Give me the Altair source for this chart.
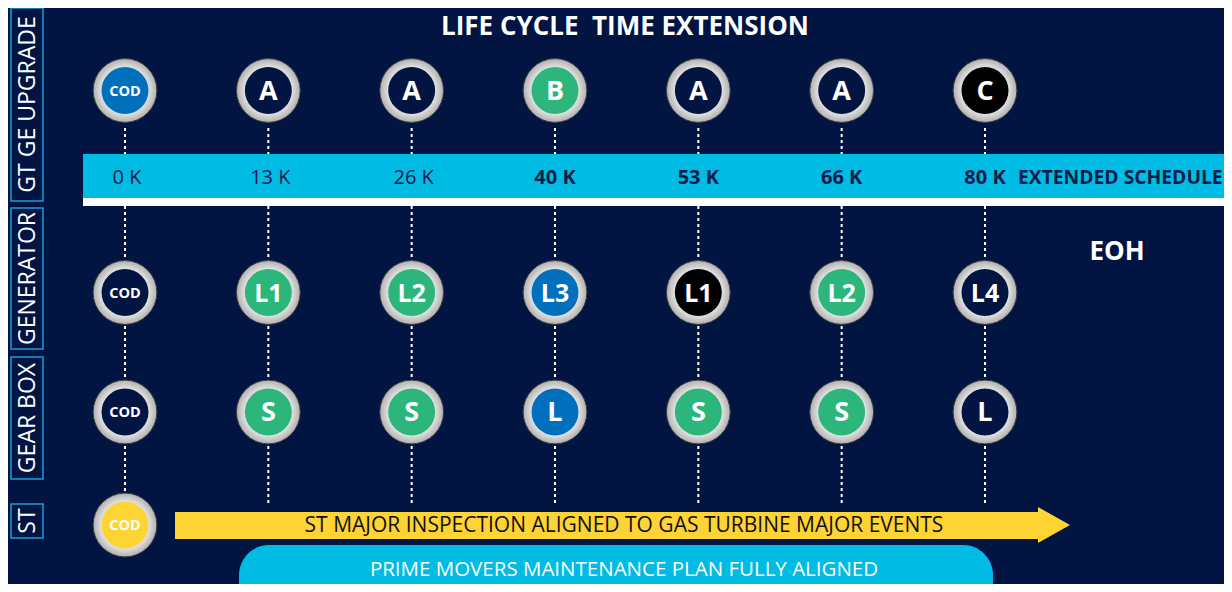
import altair as alt
import pandas as pd

# ---------------- data ----------------
milestones = [0, 13, 26, 40, 53, 66, 80]
tick_labels = ["0 K", "13 K", "26 K", "40 K", "53 K", "66 K", "80 K"]
tick_bold = [False, False, False, True, True, True, True]

rows = ["GT GE UPGRADE", "GENERATOR", "GEAR BOX", "ST"]

gt_labels = ["COD", "A", "A", "B", "A", "A", "C"]
gt_fill = ["blue", "navy", "navy", "green", "navy", "navy", "black"]

gen_labels = ["COD", "L1", "L2", "L3", "L1", "L2", "L4"]
gen_fill = ["navy", "green", "green", "blue", "black", "green", "navy"]

gear_labels = ["COD", "S", "S", "L", "S", "S", "L"]
gear_fill = ["navy", "green", "green", "blue", "green", "green", "navy"]

st_labels = ["COD"]
st_fill = ["yellow"]

title_text = "LIFE CYCLE\u00a0 TIME EXTENSION"
schedule_text = "EXTENDED SCHEDULE"
eoh_text = "EOH"
arrow_text = "ST MAJOR INSPECTION ALIGNED TO GAS TURBINE MAJOR EVENTS"
pill_text = "PRIME MOVERS MAINTENANCE PLAN FULLY ALIGNED"

# ---------------- style ----------------
BG = "#011442"
CYAN = "#00bbe4"
NAVY_TXT = "#0b1d4a"
YELLOW = "#fed434"
FONT = "Open Sans"
fill_domain = ["blue", "navy", "green", "black", "yellow"]
fill_range = ["#0070bc", BG, "#2cb67b", "#000000", YELLOW]

W, H = 1216, 576
OFF = 8  # page margin offset


def px(v):
    return v - OFF


X_SCALE = alt.Scale(domain=[-117 / 143.333, (W - 117) / 143.333], nice=False, zero=False)

ring = {
    "gradient": "radial",
    "x1": 0.5, "y1": 0.5, "r1": 0,
    "x2": 0.5, "y2": 0.5, "r2": 0.5,
    "stops": [
        {"offset": 0.0, "color": "#f2f2f2"},
        {"offset": 0.72, "color": "#e4e4e4"},
        {"offset": 1.0, "color": "#b0b0b0"},
    ],
}

ms_df = pd.DataFrame({
    "idx": list(range(len(milestones))),
    "k": milestones,
    "tick": tick_labels,
    "bold": tick_bold,
})
one = pd.DataFrame({"k": [0]})

xenc = alt.X("idx:Q", scale=X_SCALE, axis=None)

layers = []

# dotted vertical guides
layers.append(
    alt.Chart(ms_df).mark_rule(color="white", strokeWidth=2, strokeDash=[3, 3]).encode(
        x=xenc, y=alt.value(px(128)), y2=alt.value(px(503))
    )
)

# cyan schedule bar + white strip
layers.append(
    alt.Chart(one).mark_rect(color=CYAN).encode(
        x=alt.value(px(83)), x2=alt.value(W), y=alt.value(px(154)), y2=alt.value(px(198))
    )
)
layers.append(
    alt.Chart(one).mark_rect(color="white").encode(
        x=alt.value(px(83)), x2=alt.value(W), y=alt.value(px(198)), y2=alt.value(px(206))
    )
)

# tick labels on the bar
layers.append(
    alt.Chart(ms_df).transform_filter("!datum.bold").mark_text(
        font=FONT, fontSize=20, color=NAVY_TXT, baseline="middle", dy=1, dx=2
    ).encode(x=xenc, y=alt.value(px(177)), text="tick:N")
)
layers.append(
    alt.Chart(ms_df).transform_filter("datum.bold").mark_text(
        font=FONT, fontSize=20, fontWeight="bold", color=NAVY_TXT, baseline="middle", dy=1
    ).encode(x=xenc, y=alt.value(px(177)), text="tick:N")
)
layers.append(
    alt.Chart(one).mark_text(
        font=FONT, fontSize=19.3, fontWeight="bold", color=NAVY_TXT, align="left", baseline="middle", dy=1
    ).encode(x=alt.value(px(1018)), y=alt.value(px(177)), text=alt.value(schedule_text))
)


def circle_row(labels, fills, ypx):
    df = pd.DataFrame({"idx": list(range(len(labels))), "label": labels, "fill": fills})
    base = alt.Chart(df).encode(x=xenc, y=alt.value(px(ypx)))
    outer = base.mark_circle(size=4072, fill=ring, stroke="#3c3c3c", strokeWidth=1, opacity=1)
    inner = base.mark_circle(size=2206, opacity=1).encode(
        color=alt.Color("fill:N", scale=alt.Scale(domain=fill_domain, range=fill_range), legend=None)
    )
    txt = base.transform_calculate(
        fs="length(datum.label) == 1 ? 27 : (length(datum.label) == 2 ? 25 : 14.5)"
    ).mark_text(font=FONT, fontWeight="bold", color="white", baseline="middle", dy=1).encode(
        text="label:N", size=alt.Size("fs:Q", scale=None)
    )
    return [outer, inner, txt]


layers += circle_row(gt_labels, gt_fill, 90.5)
layers += circle_row(gen_labels, gen_fill, 292.5)
layers += circle_row(gear_labels, gear_fill, 412)

# yellow arrow
layers.append(
    alt.Chart(one).mark_rect(color=YELLOW).encode(
        x=alt.value(px(175)), x2=alt.value(px(1040)), y=alt.value(px(512)), y2=alt.value(px(539))
    )
)
layers.append(
    alt.Chart(one).mark_point(
        shape="M-1,-1.125L1,0L-1,1.125Z", size=1024, filled=True, color=YELLOW, opacity=1
    ).encode(x=alt.value(px(1054)), y=alt.value(px(525)))
)
layers.append(
    alt.Chart(one).mark_text(font=FONT, fontSize=21, color="#111111", baseline="middle", dy=1).encode(
        x=alt.value(px(624)), y=alt.value(px(525)), text=alt.value(arrow_text)
    )
)

layers += circle_row(st_labels, st_fill, 525)

# cyan pill
layers.append(
    alt.Chart(one).mark_rect(color=CYAN, cornerRadius=30).encode(
        x=alt.value(px(239)), x2=alt.value(px(993)), y=alt.value(px(545)), y2=alt.value(px(640))
    )
)
layers.append(
    alt.Chart(one).mark_text(font=FONT, fontSize=20.5, color="white", baseline="middle", dy=1).encode(
        x=alt.value(px(624)), y=alt.value(px(569)), text=alt.value(pill_text)
    )
)

# title and EOH
layers.append(
    alt.Chart(one).mark_text(font=FONT, fontSize=26, fontWeight="bold", color="white", baseline="middle", dy=1).encode(
        x=alt.value(px(625)), y=alt.value(px(26)), text=alt.value(title_text)
    )
)
layers.append(
    alt.Chart(one).mark_text(font=FONT, fontSize=26, fontWeight="bold", color="white", baseline="middle", dy=1).encode(
        x=alt.value(px(1117)), y=alt.value(px(251)), text=alt.value(eoh_text)
    )
)

# left section labels
boxes = [(8, 201), (208, 349), (357, 479), (504, 538)]
for name, (y0, y1) in zip(rows, boxes):
    layers.append(
        alt.Chart(one).mark_rect(fillOpacity=0, stroke="#1f9ad6", strokeWidth=1.5).encode(
            x=alt.value(px(11)), x2=alt.value(px(43)), y=alt.value(px(y0)), y2=alt.value(px(y1))
        )
    )
    layers.append(
        alt.Chart(one).mark_text(font=FONT, fontSize=23, color="white", angle=270, baseline="middle", dy=1).encode(
            x=alt.value(px(27)), y=alt.value(px((y0 + y1) / 2)), text=alt.value(name)
        )
    )

chart = alt.layer(*layers).properties(
    width=W, height=H, autosize=alt.AutoSizeParams(type="none"), padding=0, background=BG
).configure_view(stroke=None)

chart.save("out.html", embed_options={"renderer": "svg", "actions": False})
